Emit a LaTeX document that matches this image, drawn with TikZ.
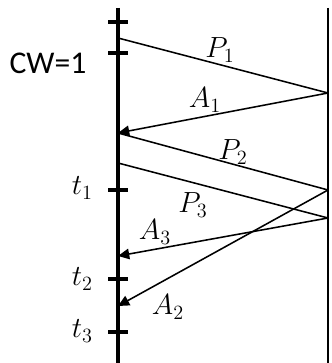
\documentclass[tikz,border=0pt]{standalone}
\usepackage{fontspec}
\setsansfont{Carlito}
\usetikzlibrary{arrows.meta}

\begin{document}
\begin{tikzpicture}[x=0.25cm, y=0.25cm,
  every node/.style={font=\fontsize{21}{24}\selectfont, inner sep=0pt},
  axis/.style={line width=2.2pt},
  msg/.style={line width=1.1pt},
  >={Triangle[length=8pt, width=7.5pt]}]
\useasboundingbox (0,0) rectangle (33.1,36.3);
% sender (left) and receiver (right)
\draw[axis] (11.8,35.5) -- (11.8,0);
\draw[line width=0.8pt] (32.8,35.5) -- (32.8,0);
% ticks on the sender line
\foreach \y/\n in {34.1/ta, 31.0/tb, 17.3/tc, 8.4/td, 3.1/te}{
  \draw[axis] (10.8,\y) -- (12.8,\y);
  \coordinate (\n) at (10.8,\y);}
% end points of the messages
\coordinate (s1) at (11.8,32.5);
\coordinate (s2) at (11.8,23.0);
\coordinate (s3) at (11.8,20.0);
\coordinate (s4) at (11.8,10.7);
\coordinate (s5) at (11.8,5.7);
\coordinate (r1) at (32.8,27.0);
\coordinate (r2) at (32.8,17.3);
\coordinate (r3) at (32.8,14.5);
% packets and acks
\draw[msg] (s1) -- (r1);
\draw[msg,->] (r1) -- (s2);
\draw[msg] (s2) -- (r2);
\draw[msg] (s3) -- (r3);
\draw[msg,->] (r3) -- (s4);
\draw[msg,->] (r2) -- (s5);
% labels
\node[font=\fontsize{22.5}{26}\sffamily] (cw) at (4.8,30.0) {CW=1};
\node[anchor=east] (l1) at (9.3,17.5) {$t_1$};
\node[anchor=east] (l2) at (9.3,8.4) {$t_2$};
\node[anchor=east] (l3) at (9.3,3.2) {$t_3$};
\node (p1) at (22.0,31.3) {$P_1$};
\node (a1) at (20.5,26.3) {$A_1$};
\node (p2) at (23.3,21.1) {$P_2$};
\node (p3) at (19.3,15.8) {$P_3$};
\node (a3) at (15.5,13.1) {$A_3$};
\node (a2) at (16.8,5.6) {$A_2$};
\end{tikzpicture}
\end{document}
